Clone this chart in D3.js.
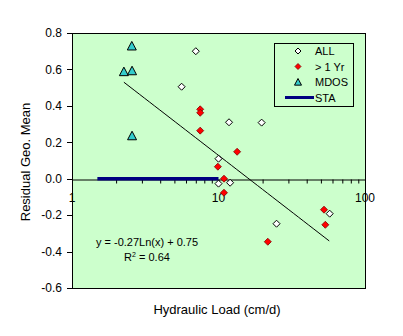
<!DOCTYPE html>
<html><head><meta charset="utf-8">
<script src="https://cdn.jsdelivr.net/npm/d3@7"></script>
<style>body{margin:0;background:#fff;}svg{display:block;font-family:Arial,"Liberation Sans",sans-serif;}</style>
</head><body>
<svg id="c" width="403" height="336"></svg>
<script>
const allX = [7.0, 5.6, 11.8, 19.7, 10.0, 10.0, 12.0, 24.9, 57.4];
const allY = [0.70, 0.505, 0.31, 0.308, 0.11, -0.027, -0.022, -0.247, -0.192];
const yrX = [7.5, 7.5, 7.5, 13.4, 9.9, 10.9, 10.9, 21.7, 52.5, 53.6];
const yrY = [0.381, 0.362, 0.264, 0.148, 0.066, 0.0, -0.077, -0.346, -0.17, -0.253];
const mdosX = [2.56, 2.26, 2.57, 2.57];
const mdosY = [0.729, 0.588, 0.593, 0.236];
const staX = [1.49, 10];
const staY = [0, 0];
const trendA = -0.27, trendB = 0.75;
const trendRange = [2.26, 57];
const xTickLabels = ["1", "10", "100"];
const xTickVals = [1, 10, 100];
const yTickVals = [-0.6, -0.4, -0.2, 0.0, 0.2, 0.4, 0.6, 0.8];
const yTickLabels = ["-0.6", "-0.4", "-0.2", "0.0", "0.2", "0.4", "0.6", "0.8"];
const legendLabels = ["ALL", "> 1 Yr", "MDOS", "STA"];

const svg = d3.select("#c");
const L = 72, R = 365, T = 33, B = 288;
const x = d3.scaleLog().domain([1, 100]).range([L, R]);
const y = d3.scaleLinear().domain([-0.6, 0.8]).range([B, T]);

// plot area
svg.append("rect").attr("x", L).attr("y", T).attr("width", R - L).attr("height", B - T)
  .attr("fill", "#CCFFCC").attr("stroke", "#000").attr("stroke-width", 1)
  .attr("shape-rendering", "crispEdges");

// y axis
const yAxis = d3.axisLeft(y).tickValues(yTickVals).tickSize(5).tickSizeOuter(0)
  .tickFormat((d, i) => yTickLabels[i]);
const gy = svg.append("g").attr("transform", `translate(${L},0)`).call(yAxis);
gy.selectAll("text").attr("font-size", 12).attr("fill", "#000")
  .attr("font-family", "Arial, 'Liberation Sans', sans-serif").attr("x", -10);
gy.select(".domain").attr("stroke", "#000").attr("shape-rendering", "crispEdges");
gy.selectAll("line").attr("shape-rendering", "crispEdges");

// x axis at y=0
const minor = [];
[1, 10].forEach(d => { for (let k = 1; k <= 9; k++) minor.push(d * k); });
minor.push(100);
const xAxis = d3.axisBottom(x).tickValues(minor).tickSize(4).tickSizeOuter(0).tickFormat("");
const gx = svg.append("g").attr("transform", `translate(0,${Math.round(y(0)) + 0.5})`).call(xAxis);
gx.select(".domain").attr("stroke", "#000");
gx.selectAll("line").attr("stroke", "#000");

svg.selectAll(".xlab").data(xTickVals).enter().append("text")
  .attr("x", d => x(d)).attr("y", y(0) + 23)
  .attr("text-anchor", "middle").attr("font-size", 12).attr("fill", "#000")
  .text((d, i) => xTickLabels[i]);

// STA line
const line = d3.line().x(d => x(d[0])).y(d => y(d[1]));
svg.append("path").datum(staX.map((v, i) => [v, staY[i]]))
  .attr("d", line).attr("stroke", "#000080").attr("stroke-width", 3.5).attr("fill", "none");

// trend line
const tr = [];
const lx0 = Math.log10(trendRange[0]), lx1 = Math.log10(trendRange[1]);
for (let i = 0; i <= 40; i++) { const v = Math.pow(10, lx0 + (lx1 - lx0) * i / 40); tr.push([v, trendA * Math.log(v) + trendB]); }
svg.append("path").datum(tr).attr("d", line).attr("stroke", "#000").attr("stroke-width", 1).attr("fill", "none");

// markers
const diamond = (s) => `M0,${-s}L${s},0L0,${s}L${-s},0Z`;
svg.selectAll(".all").data(allX.map((v, i) => [v, allY[i]])).enter().append("path")
  .attr("d", diamond(3.5)).attr("transform", d => `translate(${x(d[0])},${y(d[1])})`)
  .attr("fill", "#fff").attr("stroke", "#000").attr("stroke-width", 1);
svg.selectAll(".yr").data(yrX.map((v, i) => [v, yrY[i]])).enter().append("path")
  .attr("d", diamond(3.5)).attr("transform", d => `translate(${x(d[0])},${y(d[1])})`)
  .attr("fill", "#FF0000").attr("stroke", "#800000").attr("stroke-width", 0.8);
const tri = (s) => `M0,${-s}L${s},${s * 0.9}L${-s},${s * 0.9}Z`;
svg.selectAll(".md").data(mdosX.map((v, i) => [v, mdosY[i]])).enter().append("path")
  .attr("d", tri(4.5)).attr("transform", d => `translate(${x(d[0])},${y(d[1])})`)
  .attr("fill", "#33CCCC").attr("stroke", "#000").attr("stroke-width", 1);

// equation
svg.append("text").attr("x", 147).attr("y", 246).attr("text-anchor", "middle")
  .attr("font-size", 11).attr("fill", "#000").text("y = -0.27Ln(x) + 0.75");
const r2 = svg.append("text").attr("x", 147).attr("y", 261).attr("text-anchor", "middle")
  .attr("font-size", 11).attr("fill", "#000");
r2.append("tspan").text("R");
r2.append("tspan").attr("font-size", 7).attr("dy", -4).text("2");
r2.append("tspan").attr("dy", 4).text(" = 0.64");

// legend
const lg = svg.append("g");
lg.append("rect").attr("x", 274.5).attr("y", 43.5).attr("width", 79).attr("height", 63)
  .attr("fill", "#CCFFCC").attr("stroke", "#000").attr("stroke-width", 1);
const rows = [51, 66.5, 82, 97.5];
lg.append("path").attr("d", diamond(3)).attr("transform", `translate(298,${rows[0]})`)
  .attr("fill", "#fff").attr("stroke", "#000");
lg.append("path").attr("d", diamond(3)).attr("transform", `translate(298,${rows[1]})`)
  .attr("fill", "#FF0000").attr("stroke", "#800000").attr("stroke-width", 0.8);
lg.append("path").attr("d", tri(3.5)).attr("transform", `translate(298,${rows[2]})`)
  .attr("fill", "#33CCCC").attr("stroke", "#000");
lg.append("line").attr("x1", 285).attr("x2", 314).attr("y1", rows[3]).attr("y2", rows[3])
  .attr("stroke", "#000080").attr("stroke-width", 3);
lg.selectAll(".lt").data(legendLabels).enter().append("text")
  .attr("x", 315).attr("y", (d, i) => rows[i] + 4).attr("font-size", 11).attr("fill", "#000")
  .text(d => d);

// titles
svg.append("text").attr("x", 217).attr("y", 314).attr("text-anchor", "middle")
  .attr("font-size", 13).attr("fill", "#000").text("Hydraulic Load (cm/d)");
svg.append("text").attr("transform", "translate(30,162) rotate(-90)").attr("text-anchor", "middle")
  .attr("font-size", 13).attr("fill", "#000").text("Residual Geo. Mean");
</script>
</body></html>
